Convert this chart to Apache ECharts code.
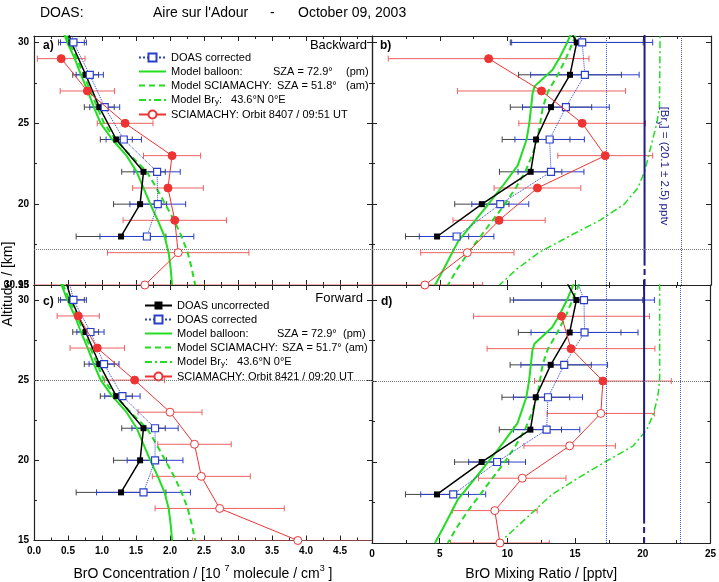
<!DOCTYPE html>
<html>
<head>
<meta charset="utf-8">
<script src="https://cdn.jsdelivr.net/npm/echarts@6.0.0/dist/echarts.min.js"></script>
<style>
html, body { margin: 0; padding: 0; background: #fff; }
#chart { width: 719px; height: 582px; }
</style>
</head>
<body>
<div id="chart"></div>
<script>
// DOAS balloon profiles (uncorrected / corrected), altitude in km
var doasAlt = [32, 30, 28, 26, 24, 22, 20, 18];
var concUncorr = [0.41, 0.55, 0.76, 0.96, 1.21, 1.61, 1.56, 1.28];
var concUncorrErr = [null, 0.19, 0.19, 0.22, 0.235, 0.32, 0.39, 0.66];
var concCorrBack = [0.47, 0.58, 0.82, 1.04, 1.32, 1.81, 1.82, 1.66];
var concCorrBackErr = [null, 0.19, 0.2, 0.22, 0.26, 0.34, 0.41, 0.69];
var concCorrFwd = [0.47, 0.58, 0.83, 1.03, 1.30, 1.78, 1.78, 1.61];
var concCorrFwdErr = [null, 0.19, 0.2, 0.22, 0.26, 0.34, 0.41, 0.69];
var mixUncorr = [13.8, 15.1, 14.6, 13.2, 12.1, 11.7, 8.1, 4.8];
var mixUncorrErr = [null, 4.9, 3.79, 3.0, 2.5, 2.3, 2.0, 2.33];
var mixCorrBack = [14.8, 15.5, 15.7, 14.3, 13.1, 13.2, 9.46, 6.24];
var mixCorrBackErr = [null, 5.2, 4.0, 3.2, 2.56, 2.43, 2.1, 2.75];
var mixCorrFwd = [14.8, 15.66, 15.7, 14.2, 13.0, 12.9, 9.24, 6.0];
var mixCorrFwdErr = [null, 5.2, 3.95, 3.2, 2.55, 2.45, 2.1, 2.4];

// SCIAMACHY retrievals (1 = filled symbol, 0 = open symbol)
var sciaAlt = [29, 27, 25, 23, 21, 19, 17, 15];
var sciaConcBack = [0.40, 0.785, 1.34, 2.03, 1.97, 2.07, 2.12, 1.63];
var sciaConcBackErr = [0.35, 0.40, 0.41, 0.42, 0.52, 0.76, 1.04, 3.4];
var sciaMixBack = [8.6, 12.5, 15.5, 17.2, 12.2, 9.37, 7.03, 3.9];
var sciaMixBackErr = [7.4, 6.2, 4.67, 3.5, 3.2, 3.4, 3.44, 4.26];
var sciaFilledBack = [1, 1, 1, 1, 1, 1, 0, 0];
var sciaConcFwd = [0.65, 0.93, 1.48, 2.0, 2.36, 2.46, 2.73, 3.88];
var sciaConcFwdErr = [0.31, 0.40, 0.44, 0.47, 0.54, 0.72, 0.95, 1.55];
var sciaMixFwd = [14.0, 14.7, 17.06, 16.9, 14.6, 11.1, 9.07, 9.45];
var sciaMixFwdErr = [6.5, 6.2, 5.05, 3.96, 3.38, 3.23, 3.13, 3.65];
var sciaFilledFwd = [1, 1, 1, 0, 0, 0, 0, 0];

// model profiles
var modelConcAlt = [31, 30, 29, 28, 27, 26, 25, 24, 23, 22, 21, 20, 19, 18, 17, 16, 15];
var balloonConc = [0.4, 0.49, 0.6, 0.69, 0.79, 0.88, 0.98, 1.15, 1.36, 1.51, 1.61, 1.71, 1.82, 1.92, 1.98, 2.01, 2.03];
var sciaModelConc = [0.42, 0.52, 0.63, 0.73, 0.83, 0.93, 1.03, 1.2, 1.42, 1.66, 1.8, 1.93, 2.06, 2.17, 2.26, 2.32, 2.37];
var balloonMixAlt = [31, 30, 29, 28.3, 27.3, 26.9, 25, 24, 22.4, 21.2, 19.6, 17.7, 16, 15];
var balloonMix = [14.9, 14.4, 13.8, 13.3, 12.0, 11.85, 11.6, 11.4, 10.75, 9.7, 8.2, 6.35, 5.3, 4.65];
var modelMixAlt = [31, 30, 29, 28, 27, 26, 25, 24, 23, 22, 21, 20, 19, 18, 17, 16, 15];
var sciaModelMix = [15.3, 14.8, 14.3, 13.7, 13.0, 12.6, 12.4, 12.2, 11.8, 11.3, 10.6, 9.8, 8.9, 8.0, 7.1, 6.3, 5.6];
var bryAltBack = [31, 26, 25, 24, 23, 22, 21, 20, 19, 18, 17, 16, 15];
var bryMixBack = [21.25, 21.2, 21.0, 20.7, 20.4, 20.1, 19.6, 18.6, 16.8, 14.5, 12.3, 10.7, 9.4];
var bryAltFwd = [31, 25, 24, 23, 22, 21, 20, 19, 18, 17, 16, 15];
var bryMixFwd = [21.25, 21.25, 21.1, 20.8, 20.3, 19.3, 17.2, 15.2, 13.3, 12.0, 10.7, 9.4];

// total Bry and its range, reference altitudes
var bryTotal = 20.1, bryLow = 17.3, bryHigh = 22.8, bryDashAlt = 16.2;
var refAltBack = 17.2, refAltFwd = 25;

var FONT = '"Liberation Sans", Arial, sans-serif';
var GREEN = '#22dd22', BLUE = '#2a3fc9', RED = '#ee3333', REDBAR = '#f06060', NAVY = '#1c1c8c';

function pts(xs, ys) {
    return xs.map(function (x, i) { return [x, ys[i]]; });
}

function errBars(gi, xs, ys, errs, color) {
    var data = [];
    xs.forEach(function (x, i) { if (errs[i] != null) data.push([x, ys[i], errs[i]]); });
    return {
        type: 'custom', xAxisIndex: gi, yAxisIndex: gi, clip: true, silent: true, z: 2,
        encode: {x: 0, y: 1}, data: data,
        renderItem: function (params, api) {
            var x = api.value(0), y = api.value(1), e = api.value(2);
            var p0 = api.coord([x - e, y]), p1 = api.coord([x + e, y]);
            var st = {stroke: color, lineWidth: 1};
            return {type: 'group', children: [
                {type: 'line', shape: {x1: p0[0], y1: p0[1], x2: p1[0], y2: p1[1]}, style: st},
                {type: 'line', shape: {x1: p0[0], y1: p0[1] - 3, x2: p0[0], y2: p0[1] + 3}, style: st},
                {type: 'line', shape: {x1: p1[0], y1: p1[1] - 3, x2: p1[0], y2: p1[1] + 3}, style: st}
            ]};
        }
    };
}

function model(gi, name, xs, ys, type, width) {
    return {
        type: 'line', name: name, xAxisIndex: gi, yAxisIndex: gi, data: pts(xs, ys),
        symbol: 'none', clip: true, z: 3, silent: true,
        lineStyle: {color: GREEN, width: width, type: type}, itemStyle: {color: GREEN, opacity: 0}
    };
}

function uncorr(gi, xs, refAlt) {
    return {
        type: 'line', name: 'DOAS uncorrected', xAxisIndex: gi, yAxisIndex: gi, data: pts(xs, doasAlt),
        symbol: 'rect', symbolSize: 6, clip: true, z: 5,
        itemStyle: {color: '#000'}, lineStyle: {color: '#000', width: 1.5},
        markLine: {silent: true, symbol: ['none', 'none'], label: {show: false}, animation: false,
            lineStyle: {color: '#777', type: 'dotted', width: 1}, data: [{yAxis: refAlt}]}
    };
}

function corr(gi, xs) {
    return {
        type: 'line', name: 'DOAS corrected', xAxisIndex: gi, yAxisIndex: gi, data: pts(xs, doasAlt),
        symbol: 'rect', symbolSize: 7, clip: true, z: 6,
        itemStyle: {color: '#fff', borderColor: BLUE, borderWidth: 1.2},
        lineStyle: {color: BLUE, width: 1, type: 'dotted'}
    };
}

function scia(gi, name, xs, filled) {
    return {
        type: 'line', name: name, xAxisIndex: gi, yAxisIndex: gi, clip: true, z: 7,
        data: xs.map(function (x, i) {
            return filled[i] ? {value: [x, sciaAlt[i]], itemStyle: {color: RED}} : [x, sciaAlt[i]];
        }),
        symbol: 'circle', symbolSize: 8,
        itemStyle: {color: '#fff', borderColor: RED, borderWidth: 1},
        lineStyle: {color: RED, width: 1}
    };
}

function bryLines(gi) {
    return [{
        type: 'line', xAxisIndex: gi, yAxisIndex: gi, data: [[bryTotal, bryDashAlt], [bryTotal, 31]],
        symbol: 'none', clip: true, z: 4, silent: true, lineStyle: {color: NAVY, width: 2},
        markLine: {silent: true, symbol: ['none', 'none'], label: {show: false}, animation: false,
            lineStyle: {color: '#4455cc', type: 'dotted', width: 1}, data: [{xAxis: bryLow}, {xAxis: bryHigh}]}
    }, {
        type: 'line', xAxisIndex: gi, yAxisIndex: gi, data: [[bryTotal, 15], [bryTotal, bryDashAlt]],
        symbol: 'none', clip: true, z: 4, silent: true, lineStyle: {color: NAVY, width: 2, type: [6, 4]}
    }];
}

var SCIA_B = 'SCIAMACHY: Orbit 8407 / 09:51 UT', SCIA_F = 'SCIAMACHY: Orbit 8421 / 09:20 UT';
var MOD_B = 'Model SCIAMACHY 51.8', MOD_F = 'Model SCIAMACHY 51.7';

var series = [
    // a) backward, concentration
    errBars(0, concUncorr, doasAlt, concUncorrErr, '#444'),
    errBars(0, concCorrBack, doasAlt, concCorrBackErr, BLUE),
    errBars(0, sciaConcBack, sciaAlt, sciaConcBackErr, REDBAR),
    model(0, 'Model balloon', balloonConc, modelConcAlt, 'solid', 2),
    model(0, MOD_B, sciaModelConc, modelConcAlt, [6, 4], 2),
    uncorr(0, concUncorr, refAltBack),
    corr(0, concCorrBack),
    scia(0, SCIA_B, sciaConcBack, sciaFilledBack),
    // b) backward, mixing ratio
    errBars(1, mixUncorr, doasAlt, mixUncorrErr, '#444'),
    errBars(1, mixCorrBack, doasAlt, mixCorrBackErr, BLUE),
    errBars(1, sciaMixBack, sciaAlt, sciaMixBackErr, REDBAR),
    model(1, 'Model balloon', balloonMix, balloonMixAlt, 'solid', 2),
    model(1, MOD_B, sciaModelMix, modelMixAlt, [6, 4], 2),
    model(1, 'Model Bry', bryMixBack, bryAltBack, [7, 3, 2, 3], 1.5),
    uncorr(1, mixUncorr, refAltBack),
    corr(1, mixCorrBack),
    scia(1, SCIA_B, sciaMixBack, sciaFilledBack),
    // c) forward, concentration
    errBars(2, concUncorr, doasAlt, concUncorrErr, '#444'),
    errBars(2, concCorrFwd, doasAlt, concCorrFwdErr, BLUE),
    errBars(2, sciaConcFwd, sciaAlt, sciaConcFwdErr, REDBAR),
    model(2, 'Model balloon', balloonConc, modelConcAlt, 'solid', 2),
    model(2, MOD_F, sciaModelConc, modelConcAlt, [6, 4], 2),
    uncorr(2, concUncorr, refAltFwd),
    corr(2, concCorrFwd),
    scia(2, SCIA_F, sciaConcFwd, sciaFilledFwd),
    // d) forward, mixing ratio
    errBars(3, mixUncorr, doasAlt, mixUncorrErr, '#444'),
    errBars(3, mixCorrFwd, doasAlt, mixCorrFwdErr, BLUE),
    errBars(3, sciaMixFwd, sciaAlt, sciaMixFwdErr, REDBAR),
    model(3, 'Model balloon', balloonMix, balloonMixAlt, 'solid', 2),
    model(3, MOD_F, sciaModelMix, modelMixAlt, [6, 4], 2),
    model(3, 'Model Bry', bryMixFwd, bryAltFwd, [7, 3, 2, 3], 1.5),
    uncorr(3, mixUncorr, refAltFwd),
    corr(3, mixCorrFwd),
    scia(3, SCIA_F, sciaMixFwd, sciaFilledFwd)
].concat(bryLines(1), bryLines(3));

var grids = [
    {left: 34, top: 36, width: 338, height: 249},
    {left: 372, top: 36, width: 339, height: 249},
    {left: 34, top: 285, width: 338, height: 258},
    {left: 372, top: 285, width: 339, height: 258}
];
var xMax = [4.97, 25, 4.97, 25], xStep = [0.5, 5, 0.5, 5];
var yMax = [30.4, 30.4, 30.93, 30.93];

var lineSt = {show: true, onZero: false, lineStyle: {color: '#222', width: 1.2}};
var xAxes = [], yAxes = [];
['bottom', 'top'].forEach(function (pos) {
    for (var i = 0; i < 4; i++) {
        var lab = pos === 'bottom' && i >= 2;
        xAxes.push({
            type: 'value', gridIndex: i, position: pos, min: 0, max: xMax[i], interval: xStep[i],
            axisLine: lineSt, splitLine: {show: false},
            axisTick: {inside: true, length: 5, lineStyle: {color: '#222'}},
            minorTick: {show: true, splitNumber: 2, length: 3, lineStyle: {color: '#222'}},
            axisLabel: {show: lab, margin: 6, color: '#000', fontFamily: FONT, fontSize: 10, fontWeight: 'bold',
                showMaxLabel: i === 3,
                formatter: i === 2 ? function (v) { return v.toFixed(1); } : '{value}'},
            name: lab ? (i === 2 ? 'BrO Concentration / [10 {sup|7} molecule / cm{sup|3} ]' : 'BrO Mixing Ratio / [pptv]') : '',
            nameLocation: 'middle', nameGap: 24,
            nameTextStyle: {color: '#000', fontFamily: FONT, fontSize: 14,
                rich: {sup: {fontSize: 9, fontFamily: FONT, color: '#000', padding: [0, 0, 10, 0]}}}
        });
    }
});
['left', 'right'].forEach(function (pos) {
    for (var i = 0; i < 4; i++) {
        yAxes.push({
            type: 'value', gridIndex: i, position: pos, min: 15, max: yMax[i], interval: 5,
            axisLine: lineSt, splitLine: {show: false},
            axisTick: {inside: true, length: 5, lineStyle: {color: '#222'}},
            minorTick: {show: true, splitNumber: 2, length: 3, lineStyle: {color: '#222'}},
            axisLabel: {show: pos === 'left' && (i === 0 || i === 2), margin: 5, color: '#000',
                fontFamily: FONT, fontSize: 10, fontWeight: 'bold'}
        });
    }
});

function legendFor(top, left, sza, orbitName, modName, w) {
    var names = top > 100 ? ['DOAS uncorrected'] : [];
    names = names.concat(['DOAS corrected', 'Model balloon', modName, 'Model Bry', orbitName]);
    var base = {fontFamily: FONT, fontSize: 11, color: '#000', lineHeight: 10};
    var sized = function (wd) { return Object.assign({width: wd}, base); };
    return {
        orient: 'vertical', left: left, top: top, padding: 0, itemWidth: 27, itemHeight: 10, itemGap: 3,
        selectedMode: false, data: names,
        textStyle: Object.assign({
            rich: {
                t: sized(w[0]), s: sized(w[1]), u: sized(w[2]), v: sized(w[3]),
                n: Object.assign({}, base), c: sized(w[4]),
                sub: {fontFamily: FONT, fontSize: 8, color: '#000', lineHeight: 8, padding: [4, 0, 0, 0]}
            }
        }, base),
        formatter: function (name) {
            if (name === 'Model balloon') return '{t|Model balloon:}{s|SZA = 72.9°}(pm)';
            if (name === modName) return '{u|Model SCIAMACHY:}{v|SZA = ' + sza + '°}(am)';
            if (name === 'Model Bry') return '{n|Model Br}{sub|y}{c|:}43.6°N 0°E';
            return name;
        }
    };
}

var txt = function (x, y, text, extra) {
    var s = {text: text, fontFamily: FONT, fontSize: 14, fill: '#000', textVerticalAlign: 'middle'};
    for (var k in extra) s[k] = extra[k];
    return {type: 'text', x: x, y: y, style: s, z: 20, silent: true};
};

var option = {
    animation: false,
    backgroundColor: '#fff',
    grid: grids,
    xAxis: xAxes,
    yAxis: yAxes,
    legend: [
        legendFor(52, 138, '51.8', SCIA_B, MOD_B, [102, 73, 106, 69, 12]),
        legendFor(300, 144, '51.7', SCIA_F, MOD_F, [100, 66, 105, 63, 12])
    ],
    graphic: [
        txt(40, 13, 'DOAS:'),
        txt(153, 13, "Aire sur l'Adour"),
        txt(270, 13, '-'),
        txt(298, 13, 'October 09, 2003'),
        txt(43, 46, 'a)', {fontWeight: 'bold', fontSize: 12}),
        txt(380, 46, 'b)', {fontWeight: 'bold', fontSize: 12}),
        txt(43, 302, 'c)', {fontWeight: 'bold', fontSize: 12}),
        txt(381, 302, 'd)', {fontWeight: 'bold', fontSize: 12}),
        txt(367, 45, 'Backward', {textAlign: 'right', fontSize: 13}),
        txt(363, 298, 'Forward', {textAlign: 'right', fontSize: 13}),
        {type: 'text', x: 8, y: 284, rotation: Math.PI / 2, z: 20, silent: true,
            style: {text: 'Altitude / [km]', fontFamily: FONT, fontSize: 14, fill: '#000',
                textAlign: 'center', textVerticalAlign: 'middle'}},
        {type: 'text', x: 664, y: 166, rotation: -Math.PI / 2, z: 20, silent: true,
            style: {text: '[Br{s|y}] = (20.1 ± 2.5) pptv', fontFamily: FONT, fontSize: 11.5, fill: NAVY,
                textAlign: 'center', textVerticalAlign: 'middle',
                rich: {s: {fontSize: 8, fontFamily: FONT, fill: NAVY, padding: [7, 0, 0, 0]}}}}
    ],
    series: series
};

echarts.init(document.getElementById('chart')).setOption(option);
</script>
</body>
</html>
